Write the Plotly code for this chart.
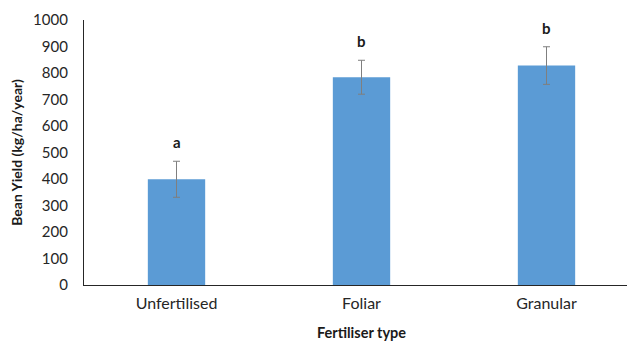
import plotly.graph_objects as go

categories = ["Unfertilised", "Foliar", "Granular"]
yield_means = [399, 784, 828]
yield_errors = [68, 64, 71]
sig_letters = ["a", "b", "b"]

FONT = "Lato, 'Open Sans', sans-serif"

fig = go.Figure()
fig.add_trace(go.Bar(
    x=categories,
    y=yield_means,
    width=0.31,
    marker=dict(color="#5B9BD5", line=dict(width=0)),
    error_y=dict(type="data", array=yield_errors, visible=True,
                 color="#7F7F7F", thickness=1, width=3.5),
    showlegend=False,
))

for cat, m, e, lab in zip(categories, yield_means, yield_errors, sig_letters):
    fig.add_annotation(x=cat, y=m + e, text=f"<b>{lab}</b>", showarrow=False,
                       yanchor="middle", yshift=19,
                       font=dict(family=FONT, size=15, color="#1a1a1a"))

# page body has an 8px default margin, so margins are compensated
fig.update_layout(
    width=635, height=341,
    margin=dict(l=76, r=4, t=12, b=64, autoexpand=False),
    plot_bgcolor="white", paper_bgcolor="white",
    font=dict(family=FONT, size=15, color="#262626"),
    xaxis=dict(
        automargin=False,
        showline=True, linecolor="#262626", linewidth=1.3,
        showgrid=False, ticks="", ticklabelstandoff=4,
        tickfont=dict(size=16, color="#262626"),
        title=dict(text="<b>Fertiliser type</b>", font=dict(size=14.5, color="#1a1a1a"), standoff=16),
    ),
    yaxis=dict(
        automargin=False,
        range=[0, 1000], dtick=100,
        showline=True, linecolor="#262626", linewidth=1.3,
        showgrid=False, ticks="", zeroline=False, ticklabelstandoff=12,
        tickfont=dict(size=15, color="#262626"),
        title=dict(text="<b>Bean Yield (kg/ha/year)</b>", font=dict(size=14, color="#1a1a1a"), standoff=14),
    ),
)

fig.write_html("out.html")
